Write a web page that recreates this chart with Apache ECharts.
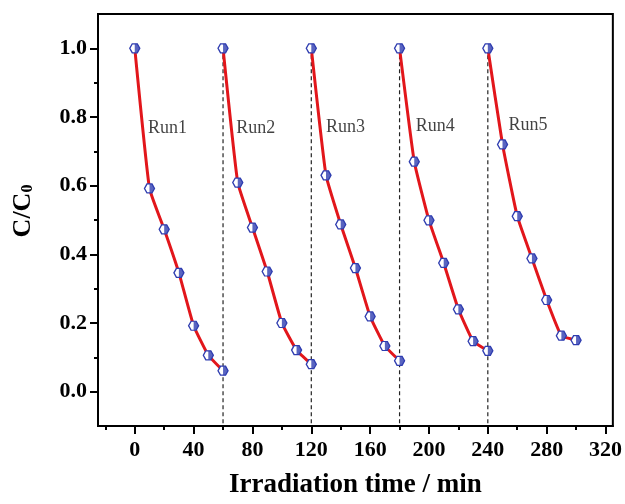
<!DOCTYPE html>
<html>
<head>
<meta charset="utf-8">
<script src="https://cdn.jsdelivr.net/npm/echarts@6/dist/echarts.min.js"></script>
<style>html,body{margin:0;padding:0;background:#fff}#c{width:625px;height:504px}</style>
</head>
<body>
<div id="c"></div>
<script>
// ---- data ----
const runNames = ['Run1', 'Run2', 'Run3', 'Run4', 'Run5'];
const run1Time = [0, 10, 20, 30, 40, 50, 60];
const run1Val  = [1.0, 0.592, 0.473, 0.346, 0.192, 0.106, 0.061];
const run2Time = [60, 70, 80, 90, 100, 110, 120];
const run2Val  = [1.0, 0.609, 0.478, 0.350, 0.200, 0.121, 0.080];
const run3Time = [120, 130, 140, 150, 160, 170, 180];
const run3Val  = [1.0, 0.630, 0.487, 0.360, 0.219, 0.133, 0.090];
const run4Time = [180, 190, 200, 210, 220, 230, 240];
const run4Val  = [1.0, 0.670, 0.499, 0.375, 0.240, 0.147, 0.119];
const run5Time = [240, 250, 260, 270, 280, 290, 300];
const run5Val  = [1.0, 0.720, 0.511, 0.388, 0.267, 0.163, 0.150];
const runLabelX = [9, 69, 130, 191, 254];
const runLabelY = [0.766, 0.766, 0.771, 0.774, 0.777];
const xMajorTicks = [0, 40, 80, 120, 160, 200, 240, 280, 320];
const xMinorTicks = [-20, 20, 60, 100, 140, 180, 220, 260, 300];
const yMajorTicks = [0.0, 0.2, 0.4, 0.6, 0.8, 1.0];
const yMinorTicks = [0.1, 0.3, 0.5, 0.7, 0.9];
const xMin = -25, xMax = 325, yMin = -0.1, yMax = 1.1;

const runTimes = [run1Time, run2Time, run3Time, run4Time, run5Time];
const runVals = [run1Val, run2Val, run3Val, run4Val, run5Val];

const FONT = "'Liberation Serif','Times New Roman',serif";
const RED = '#e2161b';
const BLUE = '#2f3db0';
const hexPath = 'path://M25,0 L75,0 L100,50 L75,100 L25,100 L0,50 Z';
const halfPath = 'path://M0,0 L25,0 L50,50 L25,100 L0,100 Z';

const series = [];
// dashed separators
for (let i = 1; i < runTimes.length; i++) {
  series.push({
    type: 'line', xAxisIndex: 0, yAxisIndex: 0,
    data: [[runTimes[i][0], runVals[i][0]], [runTimes[i][0], yMin]],
    symbol: 'none', silent: true, z: 1,
    lineStyle: { color: '#222', width: 1.2, type: [4, 3] }
  });
}
runTimes.forEach((t, i) => {
  const d = t.map((x, k) => [x, runVals[i][k]]);
  series.push({
    type: 'line', xAxisIndex: 0, yAxisIndex: 0, data: d, smooth: 0.12, z: 3,
    symbol: hexPath, symbolSize: [10, 9], showAllSymbol: true,
    lineStyle: { color: RED, width: 3 },
    itemStyle: { color: '#fff', borderColor: BLUE, borderWidth: 1.3 }
  });
  series.push({
    type: 'scatter', xAxisIndex: 0, yAxisIndex: 0, data: d, z: 4,
    symbol: halfPath, symbolSize: [5, 9], symbolOffset: [2.5, 0],
    itemStyle: { color: BLUE }
  });
});
// run labels
series.push({
  type: 'scatter', xAxisIndex: 0, yAxisIndex: 0, symbolSize: 0, z: 5,
  data: runNames.map((n, i) => ({ value: [runLabelX[i], runLabelY[i]], name: n })),
  label: { show: true, position: [0, 0], align: 'left', verticalAlign: 'middle',
           formatter: p => p.name, fontFamily: FONT, fontSize: 18, color: '#111' }
});

const chart = echarts.init(document.getElementById('c'), null, { renderer: 'canvas' });
chart.setOption({
  animation: false,
  backgroundColor: '#fff',
  grid: { left: 98, top: 14, right: 9, bottom: 74, show: true, borderColor: '#000', borderWidth: 2, backgroundColor: 'transparent' },
  xAxis: [
    {
      type: 'value', min: xMin, max: xMax, position: 'bottom',
      name: 'Irradiation time / min', nameLocation: 'middle', nameGap: 46,
      nameTextStyle: { fontFamily: FONT, fontSize: 27, fontWeight: 'bold', color: '#000' },
      axisLine: { show: true, onZero: false, lineStyle: { color: '#000', width: 2 } },
      axisTick: { show: true, customValues: xMajorTicks, length: 8, lineStyle: { color: '#000', width: 2 } },
      axisLabel: { customValues: xMajorTicks, margin: 13, fontFamily: FONT, fontSize: 22, fontWeight: 'bold', color: '#000' },
      splitLine: { show: false }
    },
    {
      type: 'value', min: xMin, max: xMax, position: 'bottom',
      axisLine: { show: false, onZero: false },
      axisTick: { show: true, customValues: xMinorTicks, length: 4, lineStyle: { color: '#000', width: 2 } },
      axisLabel: { show: false },
      splitLine: { show: false }
    }
  ],
  yAxis: [
    {
      type: 'value', min: yMin, max: yMax, position: 'left',
      name: '{a|C/C}{b|0}', nameLocation: 'middle', nameGap: 62, nameRotate: 90,
      nameTextStyle: {
        padding: [0, 0, 0, 18],
        rich: {
          a: { fontFamily: FONT, fontSize: 26, fontWeight: 'bold', color: '#000', verticalAlign: 'bottom', lineHeight: 30 },
          b: { fontFamily: FONT, fontSize: 16, fontWeight: 'bold', color: '#000', verticalAlign: 'bottom', lineHeight: 22 }
        }
      },
      axisLine: { show: true, onZero: false, lineStyle: { color: '#000', width: 2 } },
      axisTick: { show: true, customValues: yMajorTicks, length: 8, lineStyle: { color: '#000', width: 2 } },
      axisLabel: { customValues: yMajorTicks, margin: 11, formatter: v => v.toFixed(1), fontFamily: FONT, fontSize: 22, fontWeight: 'bold', color: '#000' },
      splitLine: { show: false }
    },
    {
      type: 'value', min: yMin, max: yMax, position: 'left',
      axisLine: { show: false, onZero: false },
      axisTick: { show: true, customValues: yMinorTicks, length: 4, lineStyle: { color: '#000', width: 2 } },
      axisLabel: { show: false },
      splitLine: { show: false }
    }
  ],
  series: series
});
</script>
</body>
</html>
